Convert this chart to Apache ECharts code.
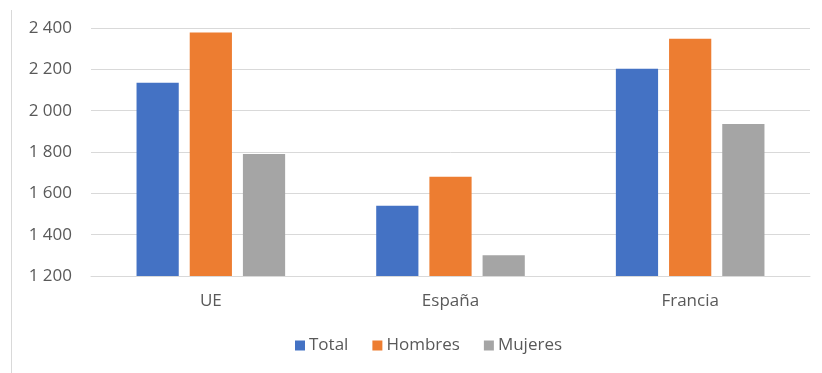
<!DOCTYPE html>
<html>
<head>
<meta charset="utf-8">
<script src="https://cdn.jsdelivr.net/npm/echarts@6/dist/echarts.min.js"></script>
<style>
  html, body { margin: 0; padding: 0; background: #fff; }
  #chart { width: 822px; height: 373px; }
</style>
</head>
<body>
<div id="chart"></div>
<script>
// Regions along the x axis
const categories = ['UE', 'España', 'Francia'];

// Values per group
const total   = [2135, 1540, 2203];
const hombres = [2378, 1680, 2348];
const mujeres = [1790, 1300, 1935];

// Y axis range
const yMin = 1200;
const yMax = 2400;
const yStep = 200;

const seriesNames = ['Total', 'Hombres', 'Mujeres'];
const seriesColors = ['#4472C4', '#ED7D31', '#A5A5A5'];
const seriesData = [total, hombres, mujeres];

const FONT = '"Open Sans", "Liberation Sans", sans-serif';
const TEXT = '#595959';
const FS = 17;

// Thousands grouped with a space, e.g. 2 400
function fmt(v) {
  return String(v).replace(/\B(?=(\d{3})+(?!\d))/g, ' ');
}

const chart = echarts.init(document.getElementById('chart'), null, { renderer: 'canvas' });

chart.setOption({
  animation: false,
  backgroundColor: '#ffffff',
  textStyle: { fontFamily: FONT },
  graphic: [{
    type: 'line',
    shape: { x1: 11.5, y1: 10, x2: 11.5, y2: 373 },
    style: { stroke: '#d9d9d9', lineWidth: 1 },
    silent: true
  }],
  grid: { left: 91, right: 12, top: 28, bottom: 97, containLabel: false },
  legend: {
    data: seriesNames,
    left: 290,
    top: 332,
    itemWidth: 10,
    itemHeight: 10,
    itemGap: 24,
    icon: 'rect',
    textStyle: { color: TEXT, fontSize: FS, fontFamily: FONT, padding: [0, 0, 0, -1] }
  },
  xAxis: {
    type: 'category',
    data: categories,
    axisLine: { show: true, lineStyle: { color: '#d9d9d9', width: 1 } },
    axisTick: { show: false },
    axisLabel: { color: TEXT, fontSize: FS, fontFamily: FONT, margin: 17 }
  },
  yAxis: {
    type: 'value',
    min: yMin,
    max: yMax,
    interval: yStep,
    axisLine: { show: false },
    axisTick: { show: false },
    splitLine: { lineStyle: { color: '#d9d9d9', width: 1 } },
    axisLabel: { color: TEXT, fontSize: FS, fontFamily: FONT, margin: 19, formatter: fmt }
  },
  series: seriesNames.map((name, i) => ({
    name: name,
    type: 'bar',
    data: seriesData[i],
    itemStyle: { color: seriesColors[i] },
    barGap: '26%',
    barCategoryGap: '38%'
  }))
});
</script>
</body>
</html>
